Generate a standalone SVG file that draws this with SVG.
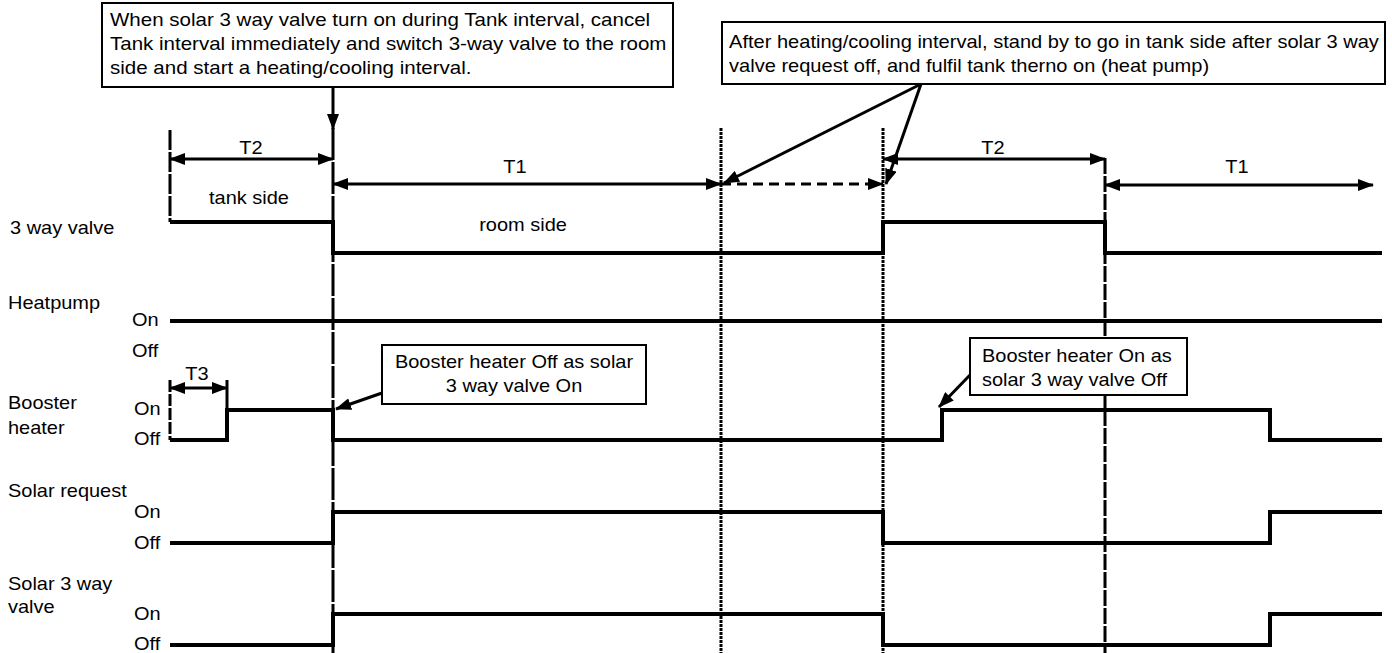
<svg xmlns="http://www.w3.org/2000/svg" width="1392" height="653" viewBox="0 0 1392 653">
<style>
text{font-family:"Liberation Sans",Arial,sans-serif;font-size:18px;fill:#000}
.c{text-anchor:middle}
.box{fill:#fff;stroke:#000;stroke-width:2}
.sig{fill:none;stroke:#000;stroke-width:4;stroke-linejoin:miter}
.div{stroke:#000;stroke-width:3}
.arr{stroke:#000;stroke-width:3;fill:none}
</style>
<defs>
<marker id="ah" markerUnits="userSpaceOnUse" markerWidth="16" markerHeight="12" refX="15" refY="6" orient="auto-start-reverse">
<path d="M0,0 L16,6 L0,12 Z" fill="#000"/>
</marker>
</defs>
<rect width="1392" height="653" fill="#fff"/>

<g id="dividers">
<line class="div" x1="333" y1="128" x2="333" y2="653" stroke-dasharray="32 2"/>
<line class="div" x1="721" y1="128" x2="721" y2="653" stroke-dasharray="3 1"/>
<line class="div" x1="883" y1="128" x2="883" y2="653" stroke-dasharray="3 1"/>
<line class="div" x1="1105" y1="158" x2="1105" y2="653" stroke-dasharray="16 2"/>
<line class="div" x1="170" y1="130" x2="170" y2="222" stroke-dasharray="20 2"/>
<line class="div" x1="170" y1="380" x2="170" y2="440" stroke-dasharray="12 2"/>
<line class="div" x1="227" y1="380" x2="227" y2="410"/>
</g>

<g id="labels">
<text transform="translate(10 234) scale(1.11 1)">3 way valve</text>
<text transform="translate(8 309) scale(1.11 1)">Heatpump</text>
<text transform="translate(132 326) scale(1.11 1)">On</text>
<text transform="translate(132 357) scale(1.11 1)">Off</text>
<text transform="translate(8 409) scale(1.11 1)">Booster</text>
<text transform="translate(8 434) scale(1.11 1)">heater</text>
<text transform="translate(134 415) scale(1.11 1)">On</text>
<text transform="translate(134 445) scale(1.11 1)">Off</text>
<text transform="translate(8 497) scale(1.11 1)">Solar request</text>
<text transform="translate(134 518) scale(1.11 1)">On</text>
<text transform="translate(134 549) scale(1.11 1)">Off</text>
<text transform="translate(8 590) scale(1.11 1)">Solar 3 way</text>
<text transform="translate(8 613) scale(1.11 1)">valve</text>
<text transform="translate(134 620) scale(1.11 1)">On</text>
<text transform="translate(134 650) scale(1.11 1)">Off</text>
</g>

<g id="signals">
<path id="sig-3way" class="sig" d="M170,222 H333 V253 H883 V222 H1105 V253 H1382"/>
<path id="sig-heatpump" class="sig" d="M170,321 H1382"/>
<path id="sig-booster" class="sig" d="M170,440 H227 V410 H333 V440 H942 V410 H1270 V440 H1382"/>
<path id="sig-solarreq" class="sig" d="M170,543 H333 V512 H883 V543 H1270 V512 H1382"/>
<path id="sig-solar3way" class="sig" d="M170,645 H333 V614 H883 V645 H1270 V614 H1382"/>
</g>

<g id="intervals">
<line class="arr" x1="170" y1="159" x2="333" y2="159" marker-start="url(#ah)" marker-end="url(#ah)"/>
<text class="c" transform="translate(251 154) scale(1.11 1)">T2</text>
<text class="c" transform="translate(249 204) scale(1.11 1)">tank side</text>
<line class="arr" x1="333" y1="184" x2="721" y2="184" marker-start="url(#ah)" marker-end="url(#ah)"/>
<text class="c" transform="translate(515 173) scale(1.11 1)">T1</text>
<text class="c" transform="translate(523 231) scale(1.11 1)">room side</text>
<line class="arr" x1="721" y1="184" x2="883" y2="184" stroke-dasharray="10 6" marker-end="url(#ah)"/>
<line class="arr" x1="883" y1="159" x2="1105" y2="159" marker-start="url(#ah)" marker-end="url(#ah)"/>
<text class="c" transform="translate(993 154) scale(1.11 1)">T2</text>
<line class="arr" x1="1105" y1="185" x2="1373" y2="185" marker-start="url(#ah)" marker-end="url(#ah)"/>
<text class="c" transform="translate(1237 173) scale(1.11 1)">T1</text>
<line class="arr" x1="170" y1="388" x2="227" y2="388" marker-start="url(#ah)" marker-end="url(#ah)"/>
<text class="c" transform="translate(197 380) scale(1.11 1)">T3</text>
</g>

<g id="callout-tank">
<rect class="box" x="102" y="3" width="571" height="84"/>
<text transform="translate(110 26) scale(1.14 1)">When solar 3 way valve turn on during Tank interval, cancel</text>
<text transform="translate(110 50) scale(1.14 1)">Tank interval immediately and switch 3-way valve to the room</text>
<text transform="translate(110 74) scale(1.14 1)">side and start a heating/cooling interval.</text>
</g>

<g id="callout-standby">
<rect class="box" x="722" y="22" width="663" height="62"/>
<text transform="translate(729 48) scale(1.115 1)">After heating/cooling interval, stand by to go in tank side after solar 3 way</text>
<text transform="translate(729 72) scale(1.115 1)">valve request off, and fulfil tank therno on (heat pump)</text>
</g>

<g id="callout-booster-off">
<rect class="box" x="382" y="345" width="264" height="59"/>
<text class="c" transform="translate(514 368) scale(1.11 1)">Booster heater Off as solar</text>
<text class="c" transform="translate(514 392) scale(1.11 1)">3 way valve On</text>
</g>

<g id="callout-booster-on">
<rect class="box" x="970" y="338" width="217" height="57"/>
<text transform="translate(982 362) scale(1.11 1)">Booster heater On as</text>
<text transform="translate(982 386) scale(1.11 1)">solar 3 way valve Off</text>
</g>

<g id="connectors">
<line class="arr" x1="333" y1="87" x2="333" y2="129" marker-end="url(#ah)"/>
<line class="arr" x1="921" y1="84" x2="724" y2="183" marker-end="url(#ah)"/>
<line class="arr" x1="921" y1="84" x2="886" y2="184" marker-end="url(#ah)"/>
<line class="arr" x1="382" y1="393" x2="336" y2="409" marker-end="url(#ah)"/>
<line class="arr" x1="970" y1="375" x2="939" y2="407" marker-end="url(#ah)"/>
</g>
</svg>
